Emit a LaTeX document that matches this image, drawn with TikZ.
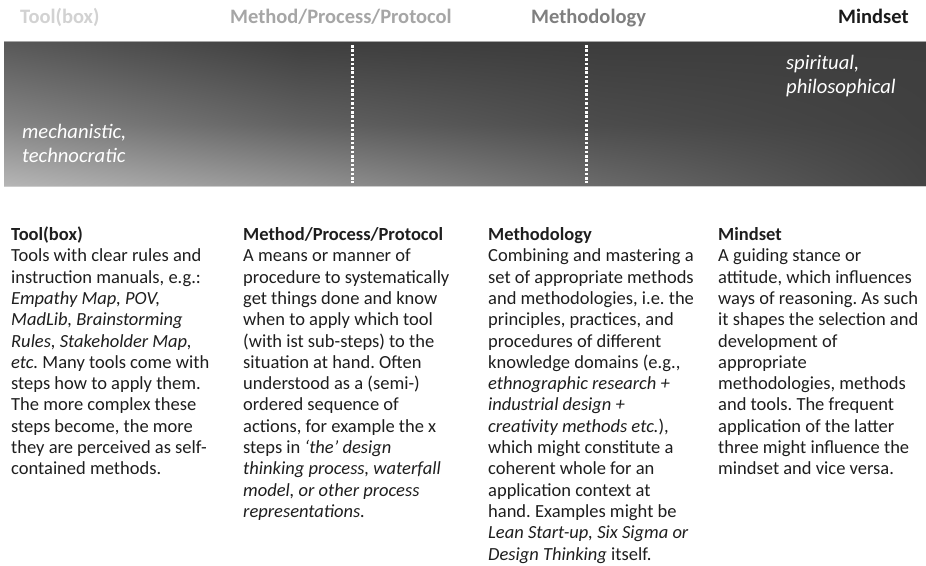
\documentclass[tikz,border=0pt]{standalone}
\usepackage{fontspec}
\setmainfont{Carlito}
\usetikzlibrary{shadings}
\frenchspacing
\definecolor{hdrA}{HTML}{D2D2D2}
\definecolor{hdrB}{HTML}{A6A6A6}
\definecolor{hdrC}{HTML}{7F7F7F}
\definecolor{hdrD}{HTML}{1A1A1A}
\definecolor{bodytext}{HTML}{1E1E1E}
% gradient grid colours: T = top, M = middle row, B = bottom; 0..3 = x positions
\definecolor{gT0}{HTML}{585858}
\definecolor{gT1}{HTML}{3E3E3E}
\definecolor{gT2}{HTML}{3C3C3C}
\definecolor{gT3}{HTML}{3E3E3E}
\definecolor{gM0}{HTML}{868686}
\definecolor{gM1}{HTML}{626262}
\definecolor{gM2}{HTML}{4C4C4C}
\definecolor{gM3}{HTML}{404040}
\definecolor{gB0}{HTML}{B6B6B6}
\definecolor{gB1}{HTML}{949494}
\definecolor{gB2}{HTML}{6A6A6A}
\definecolor{gB3}{HTML}{444444}
\begin{document}
\begin{tikzpicture}[x=1pt,y=-1pt,
  hdr/.style={anchor=base west,inner sep=0pt,font=\fontsize{20.5}{24}\selectfont\bfseries},
  bandlabel/.style={anchor=base west,inner sep=0pt,align=left,text=white,font=\fontsize{20.6}{24}\selectfont\itshape},
  colbody/.style={anchor=base west,inner sep=0pt,align=left,text=bodytext,font=\fontsize{18.5}{21.3}\selectfont},
  divider/.style={white,line width=3pt,dash pattern=on 2.6pt off 1.8pt}]
\useasboundingbox (0,0) rectangle (926,565);
\fill[white] (0,0) rectangle (926,565);
% header
\node[hdr,text=hdrA] (h1) at (20,23) {Tool(box)};
\node[hdr,text=hdrB] (h2) at (230,23) {Method/Process/Protocol};
\node[hdr,text=hdrC] (h3) at (531,23) {Methodology};
\node[hdr,text=hdrD] (h4) at (838,23) {Mindset};
% gradient band (2 x 3 grid of bilinear patches)
\shade[upper left=gT0,upper right=gT1,lower left=gM0,lower right=gM1] (4,41) rectangle (300.5,125.5);
\shade[upper left=gT1,upper right=gT2,lower left=gM1,lower right=gM2] (300,41) rectangle (600.5,125.5);
\shade[upper left=gT2,upper right=gT3,lower left=gM2,lower right=gM3] (600,41) rectangle (926,125.5);
\shade[upper left=gM0,upper right=gM1,lower left=gB0,lower right=gB1] (4,125) rectangle (300.5,186);
\shade[upper left=gM1,upper right=gM2,lower left=gB1,lower right=gB2] (300,125) rectangle (600.5,186);
\shade[upper left=gM2,upper right=gM3,lower left=gB2,lower right=gB3] (600,125) rectangle (926,186);
\draw[gray!70,line width=0.6pt] (4,41) -- (926,41);
\draw[gray!40,line width=0.6pt] (4,186) -- (926,186);
% dividers
\coordinate (d1t) at (352,45);
\coordinate (d1b) at (352,183);
\coordinate (d2t) at (586,45);
\coordinate (d2b) at (586,183);
\draw[divider] (d1t) -- (d1b);
\draw[divider] (d2t) -- (d2b);
% band labels (anchored at the baseline of their last line)
\node[bandlabel] (mech) at (22,162) {mechanistic,\\technocratic};
\node[bandlabel] (spir) at (786,93) {spiritual,\\philosophical};
% columns (anchored at the baseline of their last line)
\node[colbody] (c1) at (11,474.8) {\textbf{Tool(box)}\\
Tools with clear rules and\\
instruction manuals, e.g.:\\
\textit{Empathy Map, POV,}\\
\textit{MadLib, Brainstorming}\\
\textit{Rules, Stakeholder Map,}\\
\textit{etc.} Many tools come with\\
steps how to apply them.\\
The more complex these\\
steps become, the more\\
they are perceived as self-\\
contained methods.};
\node[colbody] (c2) at (243,517.4) {\textbf{Method/Process/Protocol}\\
A means or manner of\\
procedure to systematically\\
get things done and know\\
when to apply which tool\\
(with ist sub-steps) to the\\
situation at hand. Often\\
understood as a (semi-)\\
ordered sequence of\\
actions, for example the x\\
steps in \textit{‘the’ design}\\
\textit{thinking process, waterfall}\\
\textit{model, or other process}\\
\textit{representations.}};
\node[colbody] (c3) at (488,560) {\textbf{Methodology}\\
Combining and mastering a\\
set of appropriate methods\\
and methodologies, i.e. the\\
principles, practices, and\\
procedures of different\\
knowledge domains (e.g.,\\
\textit{ethnographic research +}\\
\textit{industrial design +}\\
\textit{creativity methods etc.}),\\
which might constitute a\\
coherent whole for an\\
application context at\\
hand. Examples might be\\
\textit{Lean Start-up, Six Sigma or}\\
\textit{Design Thinking} itself.};
\node[colbody] (c4) at (718,474.8) {\textbf{Mindset}\\
A guiding stance or\\
attitude, which influences\\
ways of reasoning. As such\\
it shapes the selection and\\
development of\\
appropriate\\
methodologies, methods\\
and tools. The frequent\\
application of the latter\\
three might influence the\\
mindset and vice versa.};
\end{tikzpicture}
\end{document}
